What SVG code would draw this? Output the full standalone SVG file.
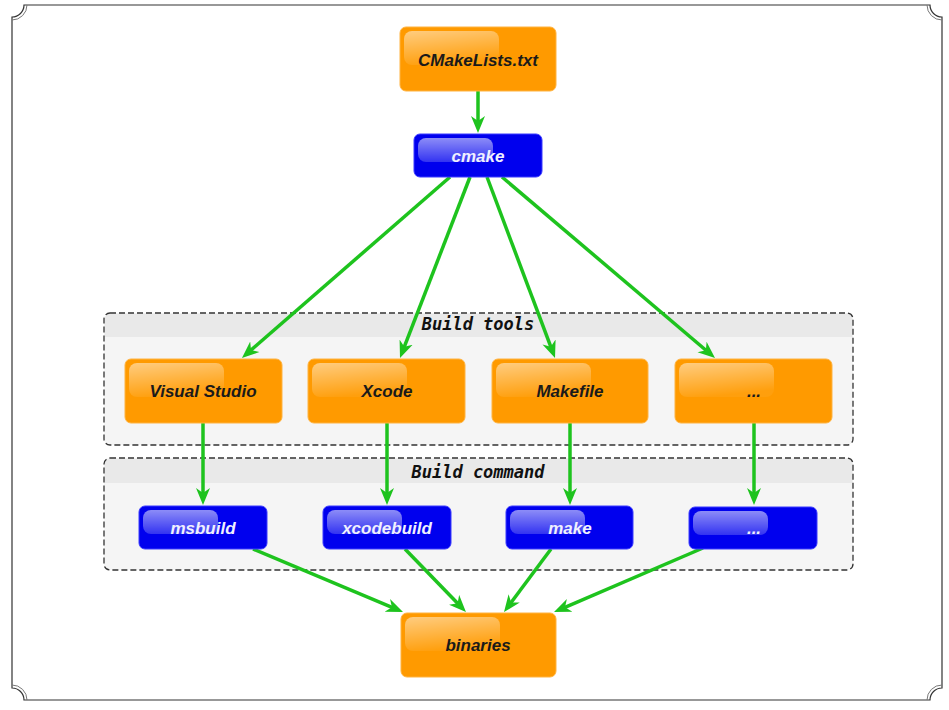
<svg xmlns="http://www.w3.org/2000/svg" width="949" height="710" viewBox="0 0 949 710">
<defs>
<linearGradient id="gO" x1="0" y1="0" x2="0.3" y2="1">
<stop offset="0" stop-color="#ffffff" stop-opacity="0.5"/>
<stop offset="1" stop-color="#ffffff" stop-opacity="0.05"/>
</linearGradient>
<linearGradient id="gB" x1="0" y1="0" x2="0" y2="1">
<stop offset="0" stop-color="#ffffff" stop-opacity="0.55"/>
<stop offset="1" stop-color="#ffffff" stop-opacity="0.2"/>
</linearGradient>
<marker id="ah" markerUnits="userSpaceOnUse" viewBox="0 -8 17 16" markerWidth="17" markerHeight="16" refX="7" refY="0" orient="auto">
<path d="M0,-7 L17,0 L0,7 L5,0 z" fill="#1ec31e"/>
</marker>
</defs>
<style>
.frame{fill:#fff;stroke:#333;stroke-width:1.2}
.corner{fill:none;stroke:#777;stroke-width:1}
.cl{fill:#f5f5f5}
.clb{fill:none;stroke:#333;stroke-width:1.3;stroke-dasharray:6 3}
.clh{fill:#e9e9e9}
.clt{font-family:"DejaVu Sans Mono",monospace;font-weight:bold;font-style:italic;font-size:17px;fill:#111;text-anchor:middle}
.o{fill:#ff9a00;stroke:#ffb340;stroke-width:1}
.b{fill:#0000ee;stroke:#3a3aff;stroke-width:1}
.hl{fill:url(#gO)}
.hlb{fill:url(#gB)}
.t{font-family:"Liberation Sans",Arial,sans-serif;font-weight:bold;font-style:italic;font-size:17px;text-anchor:middle}
.to{fill:#1a1a1a}
.tb{fill:#f0f0ff}
.e{stroke:#1ec31e;stroke-width:3.5;fill:none;marker-end:url(#ah)}
</style>
<path class="frame" d="M24,5 H930 A12,12 0 0 0 942,17 V688 A12,12 0 0 0 930,700 H24 A12,12 0 0 0 12,688 V17 A12,12 0 0 0 24,5 Z"/>
<path class="corner" d="M27,5 A15,15 0 0 1 12,20 M927,5 A15,15 0 0 0 942,20 M927,700 A15,15 0 0 1 942,685 M27,700 A15,15 0 0 0 12,685"/>
<g id="cluster_tools">
<rect class="cl" x="104" y="313" width="749" height="132" rx="6"/>
<path class="clh" d="M110,313.7 H847 A5.3,5.3 0 0 1 852.3,319 V337 H104.7 V319 A5.3,5.3 0 0 1 110,313.7 Z"/>
<rect class="clb" x="104" y="313" width="749" height="132" rx="6"/>
<text class="clt" x="478" y="330">Build tools</text>
</g>
<g id="cluster_cmd">
<rect class="cl" x="104" y="458" width="749" height="112" rx="6"/>
<path class="clh" d="M110,458.7 H847 A5.3,5.3 0 0 1 852.3,464 V483 H104.7 V464 A5.3,5.3 0 0 1 110,458.7 Z"/>
<rect class="clb" x="104" y="458" width="749" height="112" rx="6"/>
<text class="clt" x="478" y="478">Build command</text>
</g>
<g id="edges">
<line class="e" x1="478" y1="91" x2="478" y2="123"/>
<line class="e" x1="450" y1="177" x2="249.5" y2="351.4"/>
<line class="e" x1="470" y1="177" x2="403.6" y2="348.7"/>
<line class="e" x1="487" y1="177" x2="551.5" y2="348.6"/>
<line class="e" x1="502" y1="177" x2="707.4" y2="351.5"/>
<line class="e" x1="203" y1="423" x2="203" y2="495"/>
<line class="e" x1="387" y1="423" x2="387" y2="495"/>
<line class="e" x1="570" y1="423" x2="570" y2="495"/>
<line class="e" x1="754" y1="423" x2="754" y2="495"/>
<line class="e" x1="253" y1="549" x2="393.8" y2="608.1"/>
<line class="e" x1="405" y1="549" x2="459" y2="604.8"/>
<line class="e" x1="551" y1="549" x2="510" y2="604"/>
<line class="e" x1="703" y1="548" x2="563.2" y2="608.1"/>
</g>
<g id="cmakelists">
<rect class="o" x="400" y="27" width="156" height="64" rx="6"/>
<rect class="hl" x="404" y="31" width="95" height="34" rx="8"/>
<text class="t to" x="478" y="66">CMakeLists.txt</text>
</g>
<g id="cmake">
<rect class="b" x="414" y="134" width="128" height="43" rx="6"/>
<rect class="hlb" x="418" y="138" width="75" height="24" rx="8"/>
<text class="t tb" x="478" y="162">cmake</text>
</g>
<g id="visualstudio">
<rect class="o" x="125" y="359" width="157" height="64" rx="6"/>
<rect class="hl" x="129" y="363" width="95" height="34" rx="8"/>
<text class="t to" x="203" y="397">Visual Studio</text>
</g>
<g id="xcode">
<rect class="o" x="308" y="359" width="157" height="64" rx="6"/>
<rect class="hl" x="312" y="363" width="95" height="34" rx="8"/>
<text class="t to" x="387" y="397">Xcode</text>
</g>
<g id="makefile">
<rect class="o" x="492" y="359" width="156" height="64" rx="6"/>
<rect class="hl" x="496" y="363" width="95" height="34" rx="8"/>
<text class="t to" x="570" y="397">Makefile</text>
</g>
<g id="tool_more">
<rect class="o" x="675" y="359" width="157" height="64" rx="6"/>
<rect class="hl" x="679" y="363" width="95" height="34" rx="8"/>
<text class="t to" x="754" y="397">...</text>
</g>
<g id="msbuild">
<rect class="b" x="139" y="506" width="128" height="43" rx="6"/>
<rect class="hlb" x="143" y="510" width="75" height="24" rx="8"/>
<text class="t tb" x="203" y="534">msbuild</text>
</g>
<g id="xcodebuild">
<rect class="b" x="323" y="506" width="128" height="43" rx="6"/>
<rect class="hlb" x="327" y="510" width="75" height="24" rx="8"/>
<text class="t tb" x="387" y="534">xcodebuild</text>
</g>
<g id="make">
<rect class="b" x="506" y="506" width="127" height="43" rx="6"/>
<rect class="hlb" x="510" y="510" width="75" height="24" rx="8"/>
<text class="t tb" x="570" y="534">make</text>
</g>
<g id="cmd_more">
<rect class="b" x="689" y="507" width="128" height="42" rx="6"/>
<rect class="hlb" x="693" y="511" width="75" height="24" rx="8"/>
<text class="t tb" x="754" y="534">...</text>
</g>
<g id="binaries">
<rect class="o" x="401" y="613" width="155" height="64" rx="6"/>
<rect class="hl" x="405" y="617" width="95" height="34" rx="8"/>
<text class="t to" x="478" y="651">binaries</text>
</g>
</svg>
